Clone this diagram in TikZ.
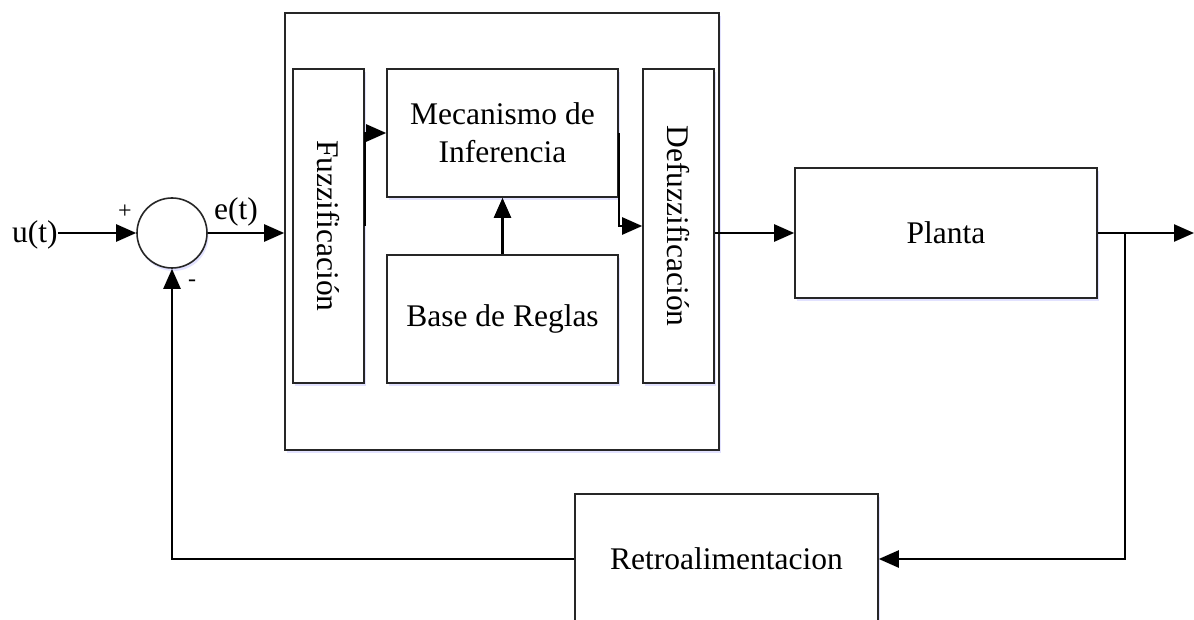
\documentclass[tikz,border=0pt]{standalone}
\usepackage{fontspec}
\setmainfont{Liberation Serif}
\usetikzlibrary{arrows.meta,shadows,positioning,calc}

\tikzset{
  soft/.style={drop shadow={fill=blue!25!white, opacity=0.45, shadow xshift=1.5pt, shadow yshift=-3pt}},
  blk/.style={draw=black!85, line width=1.6pt, fill=white, soft, inner sep=0pt,
              font=\fontsize{31.5}{38}\selectfont, align=center},
  flow/.style={line width=2.4pt, -{Triangle[length=20pt,width=17pt]}},
  sign/.style={font=\fontsize{24}{26}\selectfont},
  lbl/.style={font=\fontsize{31.5}{38}\selectfont, inner sep=0pt},
}

\begin{document}
\begin{tikzpicture}[x=1pt,y=-1pt]
\useasboundingbox (0,0) rectangle (1194,620);
\clip (0,0) rectangle (1194,620);

% fuzzy controller enclosure and its stages
\node[blk, minimum width=434pt, minimum height=437pt] (ctrl) at (502,231.5) {};
\node[blk, minimum width=71pt, minimum height=314pt] (fuzz) at (328.5,226) {};
\node[lbl, rotate=-90] at (fuzz.center) {Fuzzificación};
\node[blk, minimum width=231pt, minimum height=128pt] (mec) at (502.5,133) {Mecanismo de\\Inferencia};
\node[blk, minimum width=231pt, minimum height=128pt] (base) at (502.5,319) {Base de Reglas};
\node[blk, minimum width=71pt, minimum height=314pt] (defz) at (678.5,226) {};
\node[lbl, rotate=-90] at (defz.center) {Defuzzificación};

% plant and feedback path
\node[blk, minimum width=302pt, minimum height=130pt] (planta) at (946,233) {Planta};
\node[blk, minimum width=303pt, minimum height=130pt] (retro) at (726.5,559) {Retroalimentacion};

% summing junction
\node[draw=black!85, line width=1.6pt, circle, minimum size=70pt, fill=white, soft] (sum) at (172,233) {};
\node[lbl, anchor=west] (u) at (12,235) {u(t)};
\node[sign] at (125,212) {+};
\node[sign] at (192,283) {-};
\node[lbl] (e) at (236,212) {e(t)};

\coordinate (out) at (1194,233);
\coordinate (br) at (1125,233);

% signal connections
\draw[flow] (u.east |- sum.west) -- (sum.west);
\draw[flow] (sum.east) -- (sum.east -| ctrl.west);
\draw[flow] (fuzz.east) -- (fuzz.east |- mec.west) -- (mec.west);
\draw[flow] (base.north) -- (mec.south);
\draw[flow] (mec.east) -- (mec.east |- defz.west) -- (defz.west);
\draw[flow] (defz.east |- planta.west) -- (planta.west);
\draw[flow] (planta.east) -- (out);
\draw[flow] (br) |- (retro.east);
\draw[flow] (retro.west) -| (sum.south);
\end{tikzpicture}
\end{document}
